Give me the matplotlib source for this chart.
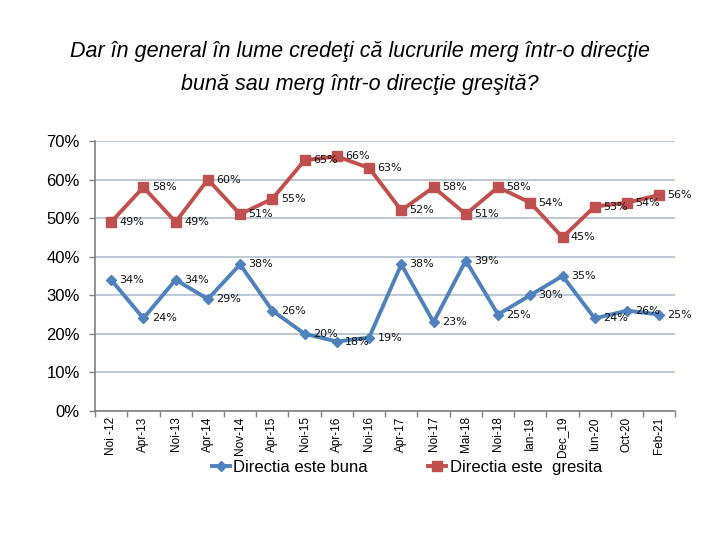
import matplotlib
matplotlib.use("Agg")
import matplotlib.pyplot as plt
from matplotlib.lines import Line2D

categories = ["Noi -12", "Apr-13", "Noi-13", "Apr-14", "Nov-14", "Apr-15", "Noi-15",
              "Apr-16", "Noi-16", "Apr-17", "Noi-17", "Mai-18", "Noi-18", "Ian-19",
              "Dec_19", "Iun-20", "Oct-20", "Feb-21"]
buna = [34, 24, 34, 29, 38, 26, 20, 18, 19, 38, 23, 39, 25, 30, 35, 24, 26, 25]
gresita = [49, 58, 49, 60, 51, 55, 65, 66, 63, 52, 58, 51, 58, 54, 45, 53, 54, 56]
yticks = [0, 10, 20, 30, 40, 50, 60, 70]
title = "Dar în general în lume credeţi că lucrurile merg într-o direcţie\nbună sau merg într-o direcţie greşită?"
series_names = ["Directia este buna", "Directia este  gresita"]

blue = "#4F81BD"
red = "#C0504D"

fig = plt.figure(figsize=(7.2, 5.4), dpi=100)
ax = fig.add_axes([0.132, 0.239, 0.806, 0.5])

x = list(range(len(categories)))
ax.plot(x, buna, color=blue, lw=2.8, marker="D", ms=5.5, zorder=3)
ax.plot(x, gresita, color=red, lw=2.8, marker="s", ms=6.5, zorder=3)

for xi, v in zip(x, buna):
    ax.annotate(f"{v}%", (xi, v), xytext=(6, 0), textcoords="offset points",
                fontsize=8, va="center", ha="left", family="DejaVu Sans", color="#111111")
for xi, v in zip(x, gresita):
    ax.annotate(f"{v}%", (xi, v), xytext=(6, 0), textcoords="offset points",
                fontsize=8, va="center", ha="left", family="DejaVu Sans", color="#111111")

ax.set_xlim(-0.5, len(categories) - 0.5)
ax.set_ylim(0, 70)
ax.set_yticks(yticks)
ax.set_yticklabels([f"{t}%" for t in yticks], fontsize=12, family="Liberation Sans")
ax.yaxis.grid(True, color="#B7C4D3", lw=1.3)
ax.set_axisbelow(True)
ax.tick_params(axis="y", length=4, width=1, color="#808080", direction="out", pad=7)

ax.set_xticks(x)
ax.set_xticklabels(categories, rotation=90, fontsize=8.5, family="Liberation Sans")
ax.tick_params(axis="x", length=0, pad=4)
ax.set_xticks([i - 0.5 for i in range(len(categories) + 1)], minor=True)
ax.tick_params(axis="x", which="minor", length=4, width=1, color="#808080", direction="out")

for s in ["top", "right"]:
    ax.spines[s].set_visible(False)
for s in ["left", "bottom"]:
    ax.spines[s].set_color("#808080")
    ax.spines[s].set_linewidth(1.2)

fig.text(0.5, 0.874, title, ha="center", va="center", fontsize=15.5,
         style="italic", family="Liberation Sans", linespacing=1.7)

h1 = Line2D([], [], color=blue, lw=2.8, marker="D", ms=5.5)
h2 = Line2D([], [], color=red, lw=2.8, marker="s", ms=6.5)
fig.legend([h1, h2], series_names, loc="center", bbox_to_anchor=(0.565, 0.135),
           ncol=2, frameon=False, handlelength=1.1, columnspacing=3.6,
           handletextpad=0.2, prop={"family": "Liberation Sans", "size": 12})

fig.savefig("out.png", dpi=100)
